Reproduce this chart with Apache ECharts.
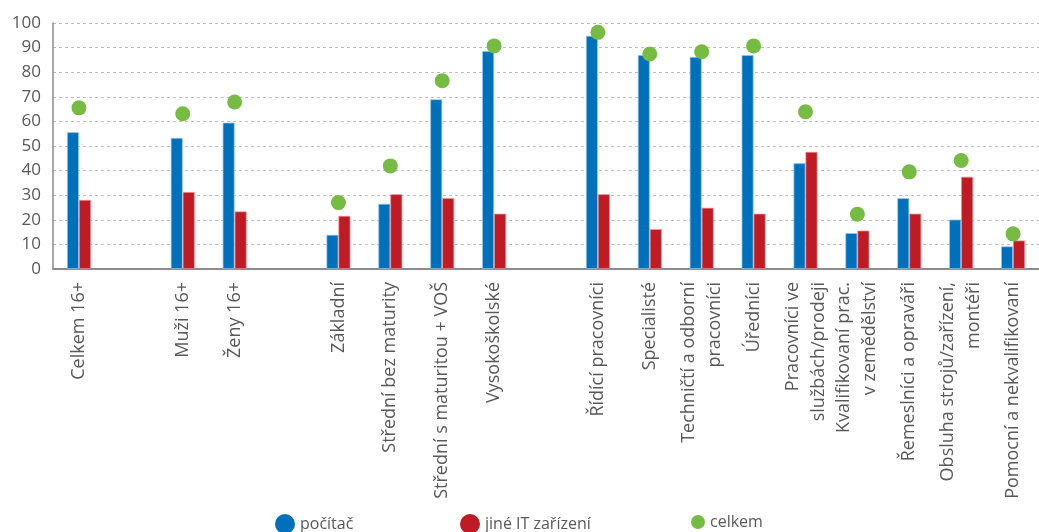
<!DOCTYPE html>
<html>
<head>
<meta charset="utf-8">
<style>
  html, body { margin: 0; padding: 0; background: #fff; }
  #chart { width: 1039px; height: 532px; }
</style>
<script src="https://cdn.jsdelivr.net/npm/echarts@6/dist/echarts.min.js"></script>
</head>
<body>
<div id="chart"></div>
<script>
// Categories; empty strings are spacer slots between the groups
const categories = [
  'Celkem 16+', '',
  'Muži 16+', 'Ženy 16+', '',
  'Základní', 'Střední bez maturity', 'Střední s maturitou + VOŠ', 'Vysokoškolské', '',
  'Řídící pracovníci', 'Specialisté', 'Techničtí a odborní\npracovníci', 'Úředníci',
  'Pracovníci ve\nslužbách/prodeji', 'Kvalifikovaní prac.\nv zemědělství', 'Řemeslníci a opraváři',
  'Obsluha strojů/zařízení,\nmontéři', 'Pomocní a nekvalifikovaní'
];

// Share of persons using each device (%)
const pocitac = [55.6, '-', 53.3, 59.5, '-', 13.9, 26.5, 69.0, 88.6, '-', 94.8, 87.0, 86.2, 87.0, 43.0, 14.6, 28.8, 20.1, 9.2];
const jineIT  = [28.1, '-', 31.3, 23.4, '-', 21.6, 30.4, 28.8, 22.5, '-', 30.4, 16.2, 24.9, 22.5, 47.6, 15.6, 22.5, 37.5, 11.6];
const celkem  = [65.5, '-', 63.1, 67.9, '-', 27.0, 41.9, 76.5, 90.7, '-', 96.2, 87.4, 88.3, 90.7, 63.9, 22.3, 39.5, 44.1, 14.3];

const yTicks = { min: 0, max: 100, interval: 10 };

const FONT = '"Open Sans", "Noto Sans", sans-serif';
const TEXT = '#595959';
const BLUE = '#0070BA';
const RED = '#BE1B24';
const GREEN = '#76BC43';

const chart = echarts.init(document.getElementById('chart'), null, { renderer: 'canvas' });

const legendText = { fontSize: 16, color: TEXT, fontFamily: FONT };
const legendIcon = { borderWidth: 0 };

chart.setOption({
  animation: false,
  textStyle: { fontFamily: FONT },
  grid: { left: 53, top: 23, width: 993, height: 246, containLabel: false },
  legend: [
    { data: ['počítač'], left: 270, top: 509, icon: 'circle', itemWidth: 20, itemHeight: 20, itemGap: 0,
      itemStyle: legendIcon, textStyle: legendText },
    { data: ['jiné IT zařízení'], left: 455, top: 509, icon: 'circle', itemWidth: 20, itemHeight: 20, itemGap: 0,
      itemStyle: legendIcon, textStyle: legendText },
    { data: ['celkem'], left: 686, top: 509, icon: 'circle', itemWidth: 14, itemHeight: 14, itemGap: 0,
      itemStyle: legendIcon, textStyle: legendText }
  ],
  xAxis: {
    type: 'category',
    data: categories,
    axisTick: { show: false },
    axisLine: { lineStyle: { color: '#8c8c8c', width: 2 } },
    axisLabel: {
      interval: 0, rotate: 90, margin: 13, align: 'right', verticalAlign: 'middle',
      fontSize: 18, color: TEXT, fontFamily: FONT, lineHeight: 26
    }
  },
  yAxis: {
    type: 'value',
    min: yTicks.min, max: yTicks.max, interval: yTicks.interval,
    axisLine: { show: true, lineStyle: { color: '#8c8c8c', width: 1.5 } },
    axisTick: { show: false },
    axisLabel: { fontSize: 17, color: TEXT, fontFamily: FONT, margin: 12 },
    splitLine: { lineStyle: { color: '#bdbdbd', type: [3, 3], width: 1 } }
  },
  series: [
    {
      name: 'počítač', type: 'bar', data: pocitac,
      barWidth: 12, barGap: '0%',
      itemStyle: { color: BLUE, borderColor: 'rgba(150,200,240,0.9)', borderWidth: 0.8 }
    },
    {
      name: 'jiné IT zařízení', type: 'bar', data: jineIT,
      barWidth: 12, barGap: '0%',
      itemStyle: { color: RED, borderColor: 'rgba(235,140,145,0.9)', borderWidth: 0.8 }
    },
    {
      name: 'celkem', type: 'scatter', data: celkem,
      symbol: 'circle', symbolSize: 15, z: 5,
      itemStyle: { color: GREEN, opacity: 1 }
    }
  ]
});
</script>
</body>
</html>
